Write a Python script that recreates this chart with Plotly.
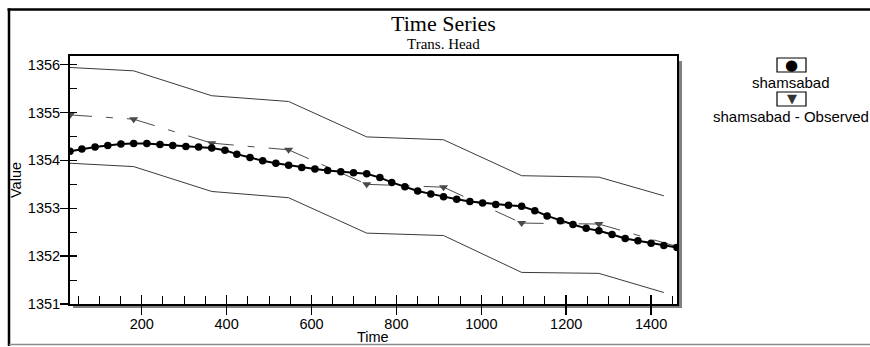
import plotly.graph_objects as go

# ---------------- data ----------------
model_t = [31, 59, 90, 120, 151, 181, 212, 243, 273, 304, 334, 365,
           396, 424, 455, 485, 516, 546, 577, 608, 638, 669, 699, 730,
           761, 789, 820, 850, 881, 911, 942, 973, 1003, 1034, 1064, 1095,
           1126, 1155, 1186, 1216, 1247, 1277, 1308, 1339, 1369, 1400, 1430, 1461]
model_v = [1354.19, 1354.24, 1354.28, 1354.31, 1354.34, 1354.35, 1354.35, 1354.33, 1354.31, 1354.29, 1354.28, 1354.26,
           1354.21, 1354.13, 1354.06, 1353.99, 1353.94, 1353.90, 1353.85, 1353.82, 1353.79, 1353.76, 1353.74, 1353.72,
           1353.64, 1353.54, 1353.45, 1353.36, 1353.30, 1353.24, 1353.19, 1353.14, 1353.11, 1353.08, 1353.06, 1353.04,
           1352.95, 1352.84, 1352.74, 1352.66, 1352.58, 1352.53, 1352.45, 1352.37, 1352.32, 1352.27, 1352.22, 1352.18]

obs_t = [31, 181, 365, 546, 730, 911, 1095, 1277, 1461]
obs_v = [1354.95, 1354.86, 1354.36, 1354.22, 1353.50, 1353.44, 1352.69, 1352.67, 1352.20]

env_t = [31, 181, 365, 546, 730, 911, 1095, 1277, 1430]
env_upper = [1355.94, 1355.87, 1355.35, 1355.23, 1354.49, 1354.43, 1353.68, 1353.65, 1353.26]
env_lower = [1353.94, 1353.87, 1353.35, 1353.22, 1352.48, 1352.43, 1351.66, 1351.64, 1351.24]

x_range = [31, 1461]
y_range = [1351, 1356.18]
series_names = ["shamsabad", "shamsabad - Observed"]

# ---------------- layout helpers (page pixels) ----------------
W, H = 870, 347
L, R, T, B = 70, 677, 56, 304   # plot area in page pixels


def px(x):
    return (x - L) / (R - L)


def py(y):
    return (B - y) / (B - T)


# observed path split per segment so the dash pattern restarts at each observation
seg_x, seg_y = [], []
for i in range(len(obs_t) - 1):
    seg_x += [obs_t[i], obs_t[i + 1], None]
    seg_y += [obs_v[i], obs_v[i + 1], None]

fig = go.Figure()

fig.add_trace(go.Scatter(x=env_t, y=env_upper, mode="lines",
                         line=dict(color="#3a3a3a", width=1), showlegend=False, hoverinfo="skip"))
fig.add_trace(go.Scatter(x=env_t, y=env_lower, mode="lines",
                         line=dict(color="#3a3a3a", width=1), showlegend=False, hoverinfo="skip"))
fig.add_trace(go.Scatter(x=seg_x, y=seg_y, mode="lines", connectgaps=False,
                         line=dict(color="#4a4a4a", width=1, dash="22px,14px,7px,14px"),
                         showlegend=False, hoverinfo="skip"))
fig.add_trace(go.Scatter(x=obs_t, y=obs_v, mode="markers", name=series_names[1],
                         marker=dict(symbol="triangle-down", size=8, color="#4a4a4a"),
                         showlegend=False))
fig.add_trace(go.Scatter(x=model_t, y=model_v, mode="lines+markers", name=series_names[0],
                         line=dict(color="black", width=2),
                         marker=dict(symbol="circle", size=7.5, color="black"),
                         showlegend=False))
# carrier trace for the overlay axes (crossing major ticks)
fig.add_trace(go.Scatter(x=[x_range[0]], y=[y_range[0]], xaxis="x2", yaxis="y2",
                         mode="markers", marker=dict(opacity=0), showlegend=False, hoverinfo="skip"))

tickfont = dict(family="Liberation Sans, Arial, sans-serif", size=14.5, color="black")

fig.update_layout(
    width=W, height=H,
    margin=dict(l=L, r=W - R, t=T, b=H - B, pad=0),
    paper_bgcolor="white", plot_bgcolor="white",
    showlegend=False,
    xaxis=dict(range=x_range, tickmode="linear", tick0=0, dtick=200,
               ticks="outside", ticklen=9, tickwidth=1.5, tickcolor="black",
               ticklabelstandoff=-3,
               minor=dict(tickmode="linear", tick0=0, dtick=50, ticks="inside",
                          ticklen=8, tickwidth=1, tickcolor="black"),
               showline=True, linewidth=2, linecolor="black", mirror=True,
               showgrid=False, zeroline=False, tickfont=tickfont),
    yaxis=dict(range=y_range, tickmode="linear", tick0=1351, dtick=1,
               ticks="outside", ticklen=8, tickwidth=1.5, tickcolor="black",
               ticklabelstandoff=-3,
               minor=dict(tickmode="linear", tick0=1351, dtick=0.5, ticks="inside",
                          ticklen=7, tickwidth=1, tickcolor="black"),
               showline=True, linewidth=2, linecolor="black", mirror=True,
               showgrid=False, zeroline=False, tickfont=tickfont),
    xaxis2=dict(overlaying="x", anchor="y2", matches="x", side="bottom",
                tickmode="linear", tick0=0, dtick=200, ticks="inside", ticklen=9,
                tickwidth=1.5, tickcolor="black", showticklabels=False,
                showline=False, showgrid=False, zeroline=False),
    yaxis2=dict(overlaying="y", anchor="x2", matches="y", side="left",
                tickmode="linear", tick0=1351, dtick=1, ticks="inside", ticklen=7,
                tickwidth=1.5, tickcolor="black", showticklabels=False,
                showline=False, showgrid=False, zeroline=False),
)

shapes = []
# plot-area drop shadow
shapes.append(dict(type="rect", xref="paper", yref="paper", layer="below",
                   x0=px(677), x1=px(682), y0=py(61), y1=py(308),
                   fillcolor="#808080", line=dict(width=0)))
shapes.append(dict(type="rect", xref="paper", yref="paper", layer="below",
                   x0=px(73), x1=px(682), y0=py(304), y1=py(308),
                   fillcolor="#808080", line=dict(width=0)))
# outer frame
shapes.append(dict(type="line", xref="paper", yref="paper",
                   x0=px(7.5), x1=px(880), y0=py(9.5), y1=py(9.5),
                   line=dict(color="black", width=2.5)))
shapes.append(dict(type="line", xref="paper", yref="paper",
                   x0=px(9), x1=px(9), y0=py(8.5), y1=py(346),
                   line=dict(color="black", width=2.5)))
shapes.append(dict(type="line", xref="paper", yref="paper",
                   x0=px(9), x1=px(880), y0=py(344.5), y1=py(344.5),
                   line=dict(color="#8a8a8a", width=1.5)))
# legend boxes
for (y0, y1) in [(58, 72), (92, 106)]:
    shapes.append(dict(type="rect", xref="paper", yref="paper",
                       x0=px(777), x1=px(806), y0=py(y1), y1=py(y0),
                       fillcolor="white", line=dict(color="black", width=1.2)))
fig.update_layout(shapes=shapes)

legfont = dict(family="Liberation Sans, Arial, sans-serif", size=15, color="black")
annotations = [
    dict(text="Time Series", x=px(443), y=py(24), xref="paper", yref="paper",
         showarrow=False, xanchor="center", yanchor="middle",
         font=dict(family="Liberation Serif, Times New Roman, serif", size=22, color="black")),
    dict(text="Trans. Head", x=px(443), y=py(44), xref="paper", yref="paper",
         showarrow=False, xanchor="center", yanchor="middle",
         font=dict(family="Liberation Serif, Times New Roman, serif", size=15, color="black")),
    dict(text="Value", x=px(16), y=py(180), xref="paper", yref="paper", textangle=-90,
         showarrow=False, xanchor="center", yanchor="middle", font=tickfont),
    dict(text="Time", x=px(373), y=py(337), xref="paper", yref="paper",
         showarrow=False, xanchor="center", yanchor="middle", font=tickfont),
    dict(text="●", x=px(791.5), y=py(65), xref="paper", yref="paper",
         showarrow=False, xanchor="center", yanchor="middle",
         font=dict(family="DejaVu Sans", size=15, color="black")),
    dict(text="▼", x=px(791.5), y=py(99), xref="paper", yref="paper",
         showarrow=False, xanchor="center", yanchor="middle",
         font=dict(family="DejaVu Sans", size=13, color="#333333")),
    dict(text=series_names[0], x=px(791), y=py(82), xref="paper", yref="paper",
         showarrow=False, xanchor="center", yanchor="middle", font=legfont),
    dict(text=series_names[1], x=px(791), y=py(116), xref="paper", yref="paper",
         showarrow=False, xanchor="center", yanchor="middle", font=legfont),
]
fig.update_layout(annotations=annotations)

fig.write_html(
    "out.html",
    config={"displayModeBar": False, "staticPlot": True},
    post_script="document.documentElement.style.overflow='hidden';"
                "document.body.style.margin='0';document.body.style.overflow='hidden';",
)
